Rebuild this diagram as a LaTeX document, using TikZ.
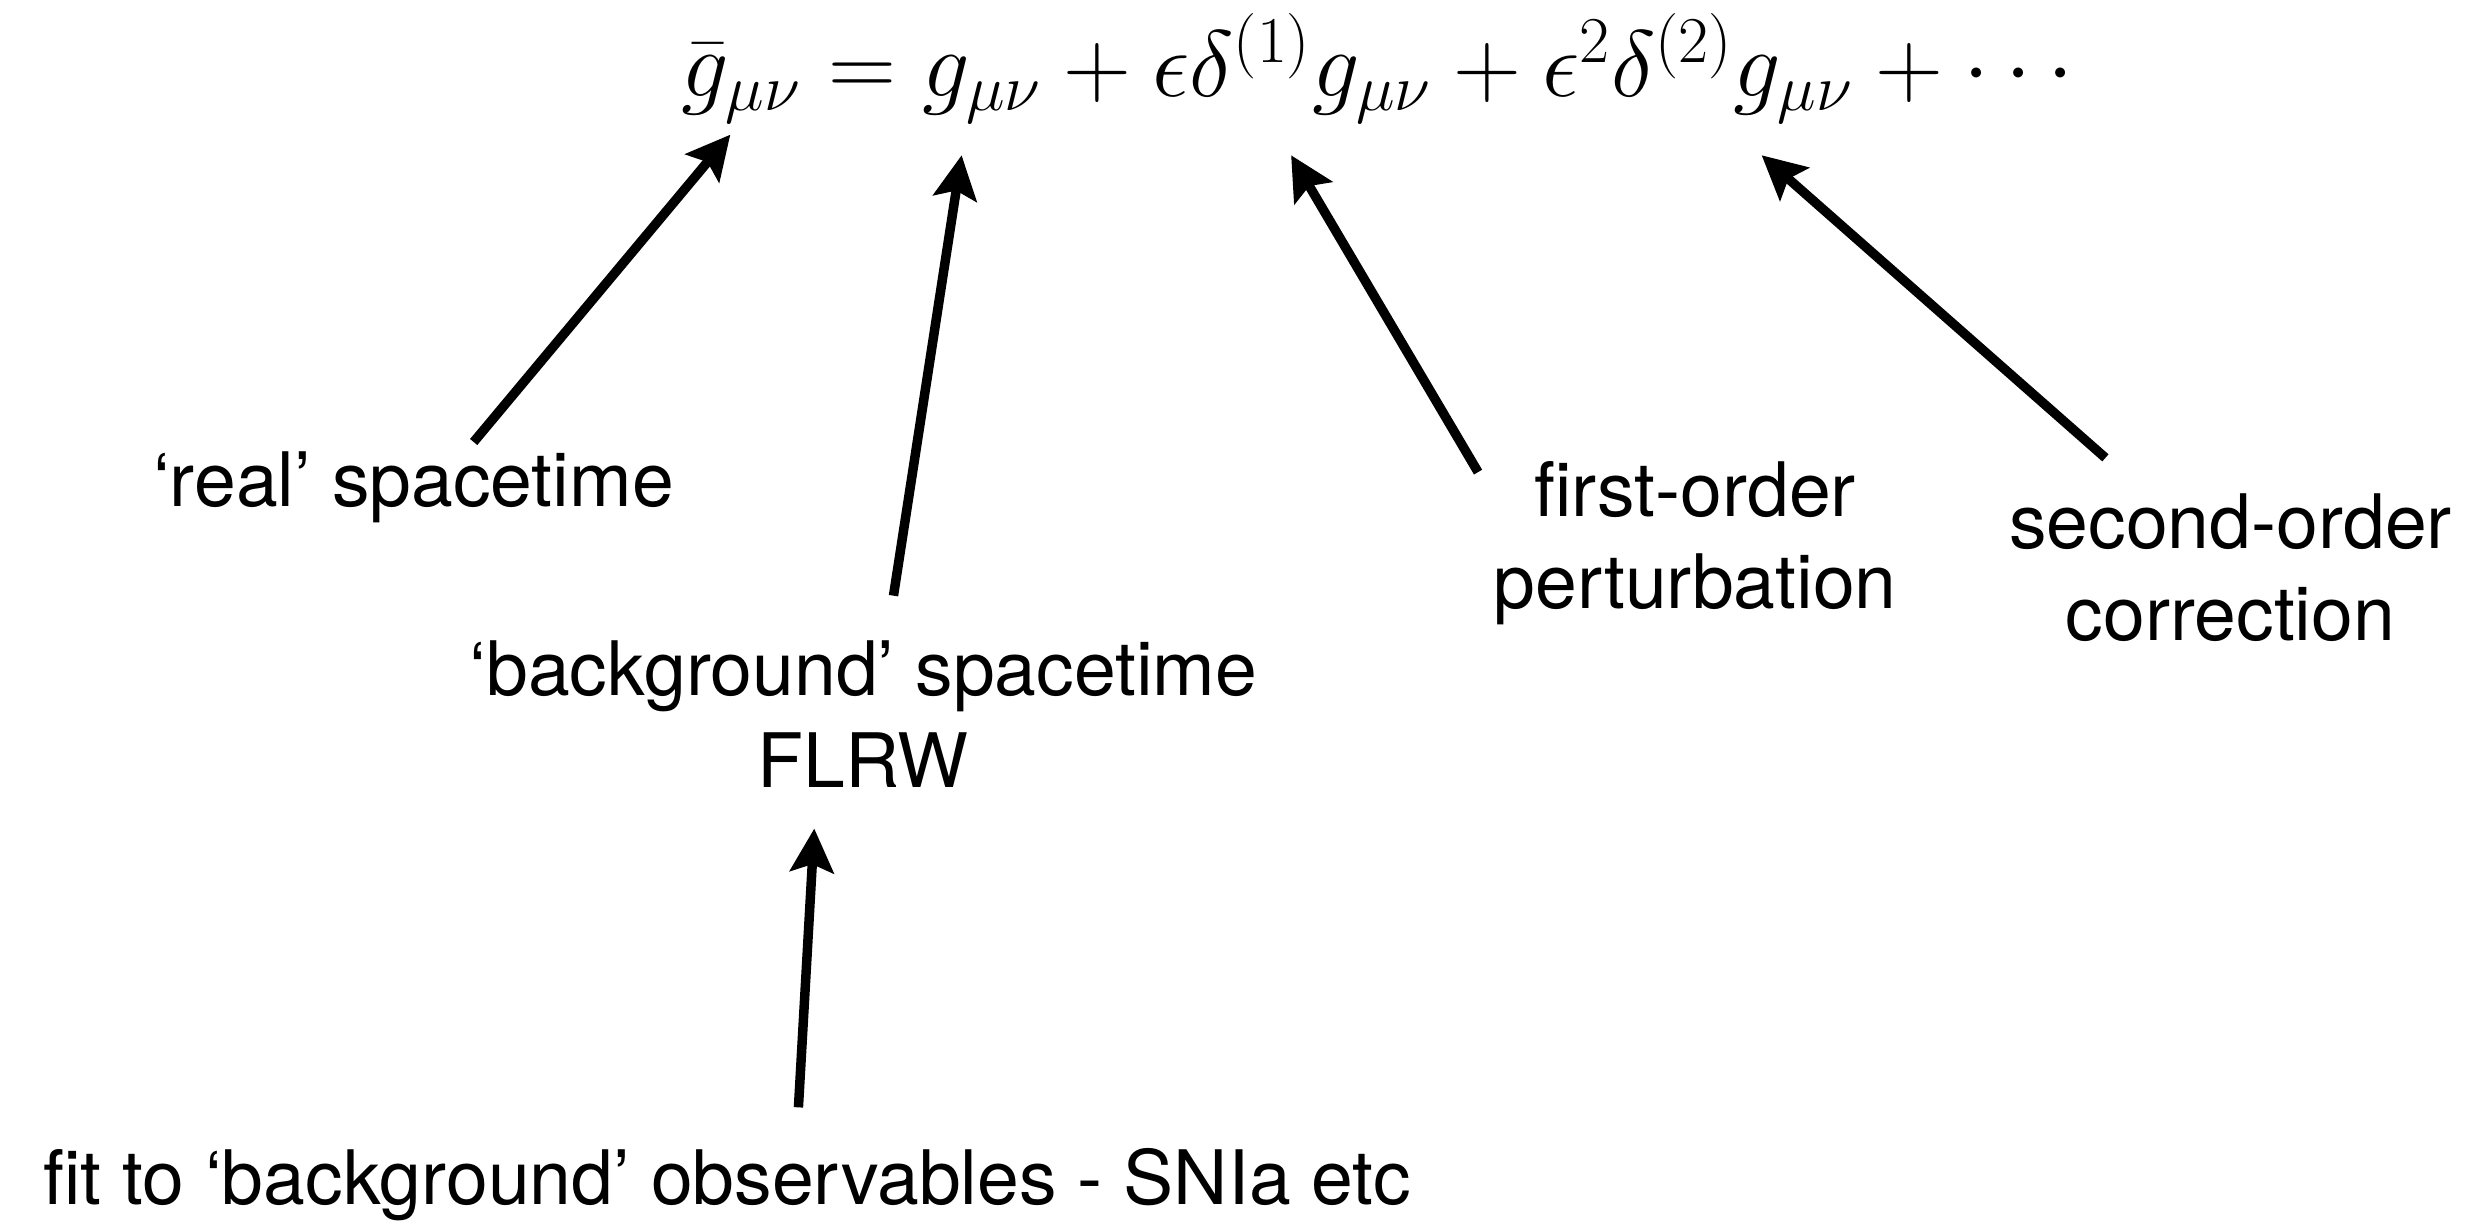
\documentclass[tikz,border=0pt]{standalone}
\usepackage{amsmath,amssymb}
\usepackage{fontspec}
\setmainfont{TeX Gyre Heros}
\usetikzlibrary{arrows.meta, positioning}

\begin{document}
\begin{tikzpicture}[
    x=0.02cm, y=-0.02cm,
    desc/.style={align=center, inner sep=0pt, anchor=base, font=\fontsize{27}{33}\selectfont},
    arrow/.style={-{Stealth[length=5.5mm, width=5.5mm, inset=1mm]}, line width=3.4pt, black}
]
    \useasboundingbox (0,0) rectangle (1568,775);

    % Metric expansion
    \node[inner sep=0pt, anchor=base west, font=\fontsize{27}{33}\selectfont] (eqn) at (430,61)
        {\scalebox{1.36}{$\bar{g}_{\mu\nu} = g_{\mu\nu} + \epsilon\delta^{(1)} g_{\mu\nu} + \epsilon^2\delta^{(2)} g_{\mu\nu} + \cdots$}};

    % Labels (multi-line ones sit on their last line)
    \node[desc] (real) at (261,320) {‘real’ spacetime};
    \node[desc] (bg) at (545,497) {‘background’ spacetime\\FLRW};
    \node[desc] (fit) at (459,760) {fit to ‘background’ observables - SNIa etc};
    \node[desc] (first) at (1070,384) {first-order\\perturbation};
    \node[desc] (second) at (1408,404) {second-order\\correction};

    % Arrow ends
    \coordinate (realtail) at (299,279);
    \coordinate (realtip) at (461,85);
    \coordinate (bgtail) at (564,376);
    \coordinate (bgtip) at (607,98);
    \coordinate (fittail) at (504,699);
    \coordinate (fittip) at (514,523);
    \coordinate (firsttail) at (933,298);
    \coordinate (firsttip) at (815,98);
    \coordinate (secondtail) at (1329,289);
    \coordinate (secondtip) at (1112,98);

    % Arrows
    \draw[arrow] (realtail) -- (realtip);
    \draw[arrow] (bgtail) -- (bgtip);
    \draw[arrow] (fittail) -- (fittip);
    \draw[arrow] (firsttail) -- (firsttip);
    \draw[arrow] (secondtail) -- (secondtip);

\end{tikzpicture}
\end{document}
